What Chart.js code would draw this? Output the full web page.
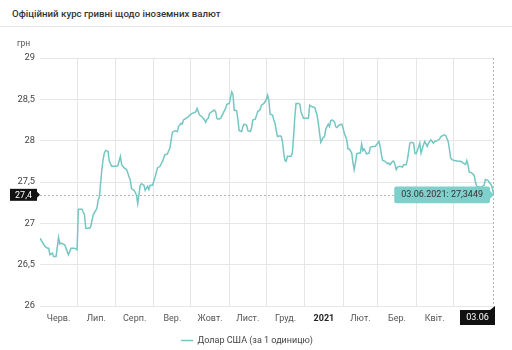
<!DOCTYPE html>
<html>
<head>
<meta charset="utf-8">
<script src="https://cdn.jsdelivr.net/npm/chart.js@4.4.0/dist/chart.umd.min.js"></script>
<style>
  html, body { margin: 0; padding: 0; background: #fff; }
  body { width: 512px; height: 350px; overflow: hidden; font-family: Roboto, sans-serif; }
  .head { height: 26px; border-bottom: 1px solid #e6e6e6; }
  .head h1 { margin: 0; padding: 8px 0 0 12px; font-size: 9.7px; font-weight: 500; color: #333; }
  .wrap { position: relative; width: 512px; height: 328px; }
</style>
</head>
<body>
<div class="head"><h1>Офіційний курс гривні щодо іноземних валют</h1></div>
<div class="wrap"><canvas id="rateChart"></canvas></div>
<script>
const dates = [
  '2020-06-01','2020-06-05','2020-06-07','2020-06-08','2020-06-09','2020-06-11','2020-06-12','2020-06-14','2020-06-16','2020-06-17','2020-06-18','2020-06-21','2020-06-22','2020-06-24','2020-06-26','2020-06-29',
  '2020-07-01','2020-07-02','2020-07-05','2020-07-07','2020-07-08','2020-07-11','2020-07-12','2020-07-14','2020-07-15','2020-07-17','2020-07-18','2020-07-19','2020-07-21','2020-07-22','2020-07-23','2020-07-24','2020-07-26','2020-07-27','2020-07-29',
  '2020-08-02','2020-08-03','2020-08-05','2020-08-06','2020-08-08','2020-08-10','2020-08-11','2020-08-12','2020-08-13','2020-08-14','2020-08-16','2020-08-18','2020-08-19','2020-08-21','2020-08-22','2020-08-24','2020-08-25','2020-08-27','2020-08-28','2020-08-29','2020-08-31',
  '2020-09-02','2020-09-04','2020-09-06','2020-09-08','2020-09-09','2020-09-10','2020-09-12','2020-09-14','2020-09-15','2020-09-16','2020-09-18','2020-09-20','2020-09-21','2020-09-23','2020-09-24','2020-09-25','2020-09-27','2020-09-29','2020-09-30',
  '2020-10-02','2020-10-04','2020-10-05','2020-10-06','2020-10-07','2020-10-08','2020-10-10','2020-10-12','2020-10-13','2020-10-14','2020-10-15','2020-10-16','2020-10-18','2020-10-20','2020-10-21','2020-10-22','2020-10-23','2020-10-25','2020-10-27','2020-10-29','2020-10-30',
  '2020-11-01','2020-11-03','2020-11-04','2020-11-05','2020-11-07','2020-11-08','2020-11-09','2020-11-11','2020-11-12','2020-11-13','2020-11-15','2020-11-16','2020-11-18','2020-11-19','2020-11-20','2020-11-22','2020-11-24','2020-11-26','2020-11-27','2020-11-29',
  '2020-12-01','2020-12-02','2020-12-03','2020-12-04','2020-12-06','2020-12-07','2020-12-08','2020-12-09','2020-12-10','2020-12-12','2020-12-13','2020-12-14','2020-12-15','2020-12-16','2020-12-17','2020-12-18','2020-12-21','2020-12-22','2020-12-23','2020-12-24','2020-12-25','2020-12-27','2020-12-28','2020-12-29','2020-12-31',
  '2021-01-02','2021-01-04','2021-01-05','2021-01-07','2021-01-09','2021-01-11','2021-01-12','2021-01-13','2021-01-14','2021-01-16','2021-01-17','2021-01-18','2021-01-20','2021-01-21','2021-01-22','2021-01-23','2021-01-25','2021-01-26','2021-01-27','2021-01-29','2021-01-31',
  '2021-02-01','2021-02-02','2021-02-04','2021-02-05','2021-02-06','2021-02-08','2021-02-09','2021-02-10','2021-02-11','2021-02-12','2021-02-14','2021-02-15','2021-02-16','2021-02-17','2021-02-18','2021-02-20','2021-02-22','2021-02-23','2021-02-25','2021-02-27','2021-02-28',
  '2021-03-02','2021-03-03','2021-03-04','2021-03-05','2021-03-07','2021-03-09','2021-03-10','2021-03-11','2021-03-13','2021-03-14','2021-03-15','2021-03-16','2021-03-17','2021-03-19','2021-03-21','2021-03-22','2021-03-24','2021-03-25','2021-03-27','2021-03-28','2021-03-30','2021-03-31',
  '2021-04-01','2021-04-03','2021-04-04','2021-04-05','2021-04-07','2021-04-08','2021-04-10','2021-04-11','2021-04-12','2021-04-13','2021-04-15','2021-04-16','2021-04-18','2021-04-20','2021-04-21','2021-04-24','2021-04-25','2021-04-27','2021-04-28','2021-04-29','2021-04-30',
  '2021-05-02','2021-05-05','2021-05-07','2021-05-09','2021-05-11','2021-05-12','2021-05-13','2021-05-14','2021-05-16','2021-05-18','2021-05-19','2021-05-20','2021-05-21','2021-05-24','2021-05-26','2021-05-27','2021-05-29','2021-05-30',
  '2021-06-01','2021-06-02','2021-06-03'
];
const rates = [
  26.82,26.72,26.70,26.70,26.62,26.64,26.60,26.60,26.83,26.75,26.76,26.74,26.70,26.62,26.70,26.70,
  26.68,27.17,27.17,27.10,26.94,26.94,26.96,27.10,27.13,27.18,27.28,27.32,27.65,27.77,27.85,27.88,27.87,27.75,27.69,
  27.69,27.70,27.81,27.71,27.67,27.65,27.61,27.56,27.52,27.42,27.40,27.34,27.24,27.46,27.48,27.46,27.40,27.45,27.41,27.46,27.46,
  27.56,27.67,27.69,27.75,27.79,27.83,27.84,27.91,28.01,28.10,28.12,28.11,28.17,28.21,28.20,28.25,28.27,28.29,28.31,
  28.33,28.34,28.35,28.39,28.35,28.31,28.29,28.25,28.22,28.26,28.27,28.33,28.35,28.37,28.35,28.27,28.26,28.27,28.33,28.39,28.44,
  28.45,28.59,28.56,28.37,28.36,28.25,28.12,28.11,28.17,28.20,28.19,28.12,28.11,28.15,28.25,28.26,28.35,28.38,28.43,28.45,
  28.50,28.55,28.49,28.32,28.31,28.25,28.21,28.12,28.05,28.06,28.05,27.99,27.85,27.76,27.75,27.81,27.81,27.85,28.05,28.29,28.45,28.45,28.44,28.35,28.27,
  28.27,28.27,28.43,28.41,28.40,28.31,28.21,28.09,27.98,28.04,28.05,28.14,28.20,28.17,28.24,28.25,28.23,28.17,28.16,28.19,28.20,
  28.15,28.09,28.01,27.90,27.90,27.85,27.73,27.65,27.73,27.84,27.85,27.85,27.96,27.88,27.90,27.84,27.85,27.92,27.93,27.93,27.95,
  27.99,27.93,27.83,27.76,27.75,27.72,27.73,27.71,27.75,27.75,27.71,27.65,27.68,27.69,27.68,27.71,27.71,27.77,27.97,27.98,27.97,27.85,
  27.84,27.92,27.97,27.85,27.95,27.99,27.93,27.97,27.99,28.01,27.97,27.99,28.00,28.02,28.05,28.07,28.06,27.99,27.89,27.79,27.77,
  27.76,27.75,27.75,27.73,27.71,27.76,27.71,27.62,27.61,27.58,27.50,27.45,27.44,27.44,27.46,27.53,27.52,27.50,
  27.46,27.40,27.3449
];

// month boundaries; names sit in the middle of each month
const monthStarts = ['2020-06-01','2020-07-01','2020-08-01','2020-09-01','2020-10-01','2020-11-01','2020-12-01',
  '2021-01-01','2021-02-01','2021-03-01','2021-04-01','2021-05-01','2021-06-01'];
const monthNames = ['Черв.','Лип.','Серп.','Вер.','Жовт.','Лист.','Груд.','2021','Лют.','Бер.','Квіт.'];
const yTicks = [26, 26.5, 27, 27.5, 28, 28.5, 29];
const seriesName = 'Долар США (за 1 одиницю)';
const yUnit = 'грн';
const crossYLabel = '27,4';
const crossXLabel = '03.06';

const DAY = 864e5;
const origin = Date.UTC(2020, 5, 1);
function dayOf(s) {
  const [y, m, d] = s.split('-').map(Number);
  return (Date.UTC(y, m - 1, d) - origin) / DAY;
}
const comma = v => String(v).replace('.', ',');

const points = dates.map((d, i) => ({ x: dayOf(d), y: rates[i] }));
const last = points[points.length - 1];

const xTicks = [];
monthStarts.slice(1, -1).forEach(s => xTicks.push({ value: dayOf(s), grid: true }));
monthNames.forEach((name, i) => {
  const mid = (dayOf(monthStarts[i]) + dayOf(monthStarts[i + 1])) / 2;
  xTicks.push({ value: mid, name });
});
xTicks.sort((a, b) => a.value - b.value);

const FONT = 'Roboto, sans-serif';
const LINE = '#74c7c2';

const crosshair = {
  id: 'crosshair',
  beforeDatasetsDraw(chart) {
    const { ctx, chartArea: a, scales: { x, y } } = chart;
    const px = Math.round(x.getPixelForValue(last.x)) - 0.5;
    const py = Math.round(y.getPixelForValue(last.y)) + 0.5;
    ctx.save();
    ctx.strokeStyle = '#b5b5b5';
    ctx.lineWidth = 1;
    ctx.setLineDash([2, 2]);
    ctx.beginPath();
    ctx.moveTo(a.left, py); ctx.lineTo(px, py);
    ctx.moveTo(px, a.top); ctx.lineTo(px, a.bottom);
    ctx.stroke();
    ctx.restore();
  },
  afterDraw(chart) {
    const { ctx, chartArea: a, scales: { x, y } } = chart;
    const px = x.getPixelForValue(last.x);
    const py = y.getPixelForValue(last.y);
    ctx.save();
    ctx.font = '9px ' + FONT;
    ctx.textBaseline = 'middle';
    ctx.textAlign = 'center';

    // value flag on the y axis
    ctx.fillStyle = '#111';
    ctx.fillRect(10, py - 6, 27, 12);
    ctx.beginPath();
    ctx.moveTo(37, py - 3); ctx.lineTo(40, py); ctx.lineTo(37, py + 3);
    ctx.fill();
    ctx.fillStyle = '#fff';
    ctx.fillText(crossYLabel, 23.5, py + 0.5);

    // date flag on the x axis
    ctx.fillStyle = '#111';
    ctx.fillRect(px - 34, a.bottom + 4, 35, 15);
    ctx.beginPath();
    ctx.moveTo(px - 4, a.bottom + 4); ctx.lineTo(px + 1, a.bottom); ctx.lineTo(px + 1, a.bottom + 4);
    ctx.fill();
    ctx.fillStyle = '#fff';
    ctx.fillText(crossXLabel, px - 16.5, a.bottom + 12);

    // unit caption above the y axis
    ctx.fillStyle = '#555';
    ctx.font = '8.5px ' + FONT;
    ctx.textAlign = 'left';
    ctx.fillText(yUnit, 17, a.top - 14);
    ctx.restore();
  }
};

const chart = new Chart(document.getElementById('rateChart'), {
  type: 'line',
  data: {
    datasets: [{
      label: seriesName,
      data: points,
      borderColor: LINE,
      backgroundColor: LINE,
      borderWidth: 1.5,
      pointRadius: 0,
      pointHoverRadius: 0,
      tension: 0
    }]
  },
  options: {
    responsive: true,
    maintainAspectRatio: false,
    animation: false,
    events: [],
    layout: { padding: { top: 31, right: 18, left: 0, bottom: 0 } },
    scales: {
      x: {
        type: 'linear',
        min: 0,
        max: last.x,
        border: { display: false },
        grid: {
          drawTicks: false,
          color: c => (c.tick && c.tick.grid ? '#e6e6e6' : 'rgba(0,0,0,0)')
        },
        afterBuildTicks: s => { s.ticks = xTicks.map(t => ({ ...t })); },
        afterFit: s => { s.height = 26; },
        ticks: {
          autoSkip: false,
          maxRotation: 0,
          padding: 7,
          color: c => (c.tick && c.tick.name === '2021' ? '#222' : '#555'),
          font: c => ({ family: FONT, size: 9, weight: c.tick && c.tick.name === '2021' ? 'bold' : 'normal' }),
          callback: (v, i, ticks) => ticks[i].name || ''
        }
      },
      y: {
        min: 26,
        max: 29,
        border: { display: false },
        grid: { drawTicks: false, color: '#e6e6e6' },
        afterBuildTicks: s => { s.ticks = yTicks.map(v => ({ value: v })); },
        afterFit: s => { s.width = 40; },
        ticks: {
          padding: 5,
          color: '#444',
          font: { family: FONT, size: 9.3 },
          callback: v => comma(v)
        }
      }
    },
    plugins: {
      legend: {
        position: 'bottom',
        labels: {
          usePointStyle: true,
          pointStyle: 'line',
          pointStyleWidth: 12,
          padding: 4,
          color: '#444',
          font: { family: FONT, size: 9 }
        }
      },
      tooltip: {
        backgroundColor: '#7fcfcb',
        bodyColor: '#333',
        bodyFont: { family: FONT, size: 9 },
        displayColors: false,
        xAlign: 'right',
        yAlign: 'center',
        caretSize: 4,
        caretPadding: 0,
        cornerRadius: 2,
        padding: { top: 3, bottom: 3, left: 7, right: 7 },
        callbacks: {
          title: () => [],
          label: c => {
            const [yy, mm, dd] = dates[c.dataIndex].split('-');
            return `${dd}.${mm}.${yy}: ${comma(rates[c.dataIndex])}`;
          }
        }
      }
    }
  },
  plugins: [crosshair]
});

chart.tooltip.setActiveElements([{ datasetIndex: 0, index: points.length - 1 }], { x: 0, y: 0 });
chart.update();
</script>
</body>
</html>
